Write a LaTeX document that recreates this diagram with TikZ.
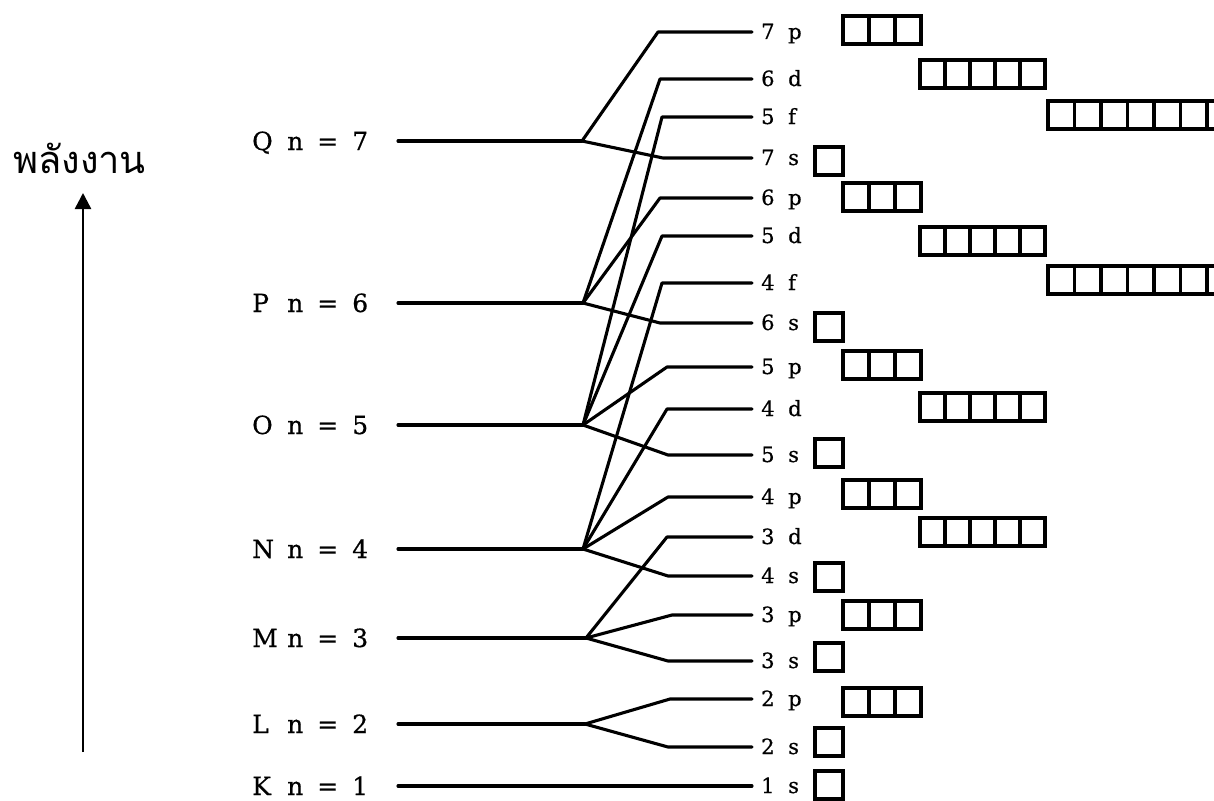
\documentclass[tikz,border=0pt]{standalone}
\usepackage{fontspec}
\newfontfamily\thaifont[Script=Thai]{Loma}
\newfontfamily\lblfont[FakeBold=0.6]{DejaVu Serif}
\usetikzlibrary{arrows.meta}
\newcommand\shelllbl[2]{\makebox[35pt][l]{#1}n\hspace{14pt}=\hspace{14pt}#2}
\newcommand\sublbl[2]{\makebox[27pt][l]{#1}#2}
\begin{document}
\begin{tikzpicture}[x=1pt,y=-1pt,
  shelltxt/.style={font=\lblfont\fontsize{25}{27}\selectfont, anchor=base west, inner sep=0pt},
  subtxt/.style={font=\lblfont\fontsize{21}{23}\selectfont, anchor=base west, inner sep=0pt},
  level/.style={line width=3.1pt, line cap=round, line join=round},
  cell/.style={line width=3.1pt, line join=miter}]
\useasboundingbox (0,0) rectangle (1214,800);

% energy axis
\node[font=\thaifont\fontsize{38}{40}\selectfont, anchor=base west, inner sep=0pt] (energy) at (13,173) {พลังงาน};
\coordinate (arrB) at (83,752);
\coordinate (arrT) at (83,193);
\draw[line width=2.5pt, -{Triangle[length=16pt,width=16pt]}] (arrB) -- (arrT);

% shells
\foreach \s/\n/\y/\b in {Q/7/141/582, P/6/303/583, O/5/425/583, N/4/549/583, M/3/638/586, L/2/724/585, K/1/786/752}{
  \node[shelltxt] (l\s) at (252,\y+9) {\shelllbl{\s}{\n}};
  \coordinate (s\s) at (398,\y);
  \coordinate (b\s) at (\b,\y);
  \draw[level] (s\s) -- (b\s);
}

% subshells
\foreach \d/\l/\y/\x in {7/p/32/658, 6/d/79/660, 5/f/117/662, 7/s/158/663, 6/p/198/660, 5/d/236/662, 4/f/283/662, 6/s/323/660, 5/p/367/667, 4/d/409/667, 5/s/455/668, 4/p/497/668, 3/d/537/667, 4/s/576/668, 3/p/615/672, 3/s/661/668, 2/p/699/670, 2/s/747/668}{
  \coordinate (a\d\l) at (\x,\y);
  \coordinate (e\d\l) at (752,\y);
  \node[subtxt] (t\d\l) at (761,\y+7) {\sublbl{\d}{\l}};
}
\node[subtxt] (t1s) at (761,786+7) {\sublbl{1}{s}};

% splitting connectors
\draw[level] (bQ) -- (a7p) -- (e7p);
\draw[level] (bQ) -- (a7s) -- (e7s);
\draw[level] (bP) -- (a6d) -- (e6d);
\draw[level] (bP) -- (a6p) -- (e6p);
\draw[level] (bP) -- (a6s) -- (e6s);
\draw[level] (bO) -- (a5f) -- (e5f);
\draw[level] (bO) -- (a5d) -- (e5d);
\draw[level] (bO) -- (a5p) -- (e5p);
\draw[level] (bO) -- (a5s) -- (e5s);
\draw[level] (bN) -- (a4f) -- (e4f);
\draw[level] (bN) -- (a4d) -- (e4d);
\draw[level] (bN) -- (a4p) -- (e4p);
\draw[level] (bN) -- (a4s) -- (e4s);
\draw[level] (bM) -- (a3d) -- (e3d);
\draw[level] (bM) -- (a3p) -- (e3p);
\draw[level] (bM) -- (a3s) -- (e3s);
\draw[level] (bL) -- (a2p) -- (e2p);
\draw[level] (bL) -- (a2s) -- (e2s);

% orbital boxes
\foreach \yc in {161,327,453,577,657,742,785}
  \draw[cell] (815,{\yc-14}) rectangle ++(28,28);
\foreach \yc in {30,197,365,494,615,702}
  \foreach \i in {0,1,2}
    \draw[cell] ({843+26*\i},{\yc-14}) rectangle ++(26,28);
\foreach \yc in {74,241,407,532}
  \foreach \i in {0,...,4}
    \draw[cell] ({920+25*\i},{\yc-14}) rectangle ++(25,28);
\foreach \yc in {115,280}
  \foreach \i in {0,...,6}
    \draw[cell] ({1048+26.5*\i},{\yc-14}) rectangle ++(26.5,28);
\end{tikzpicture}
\end{document}
